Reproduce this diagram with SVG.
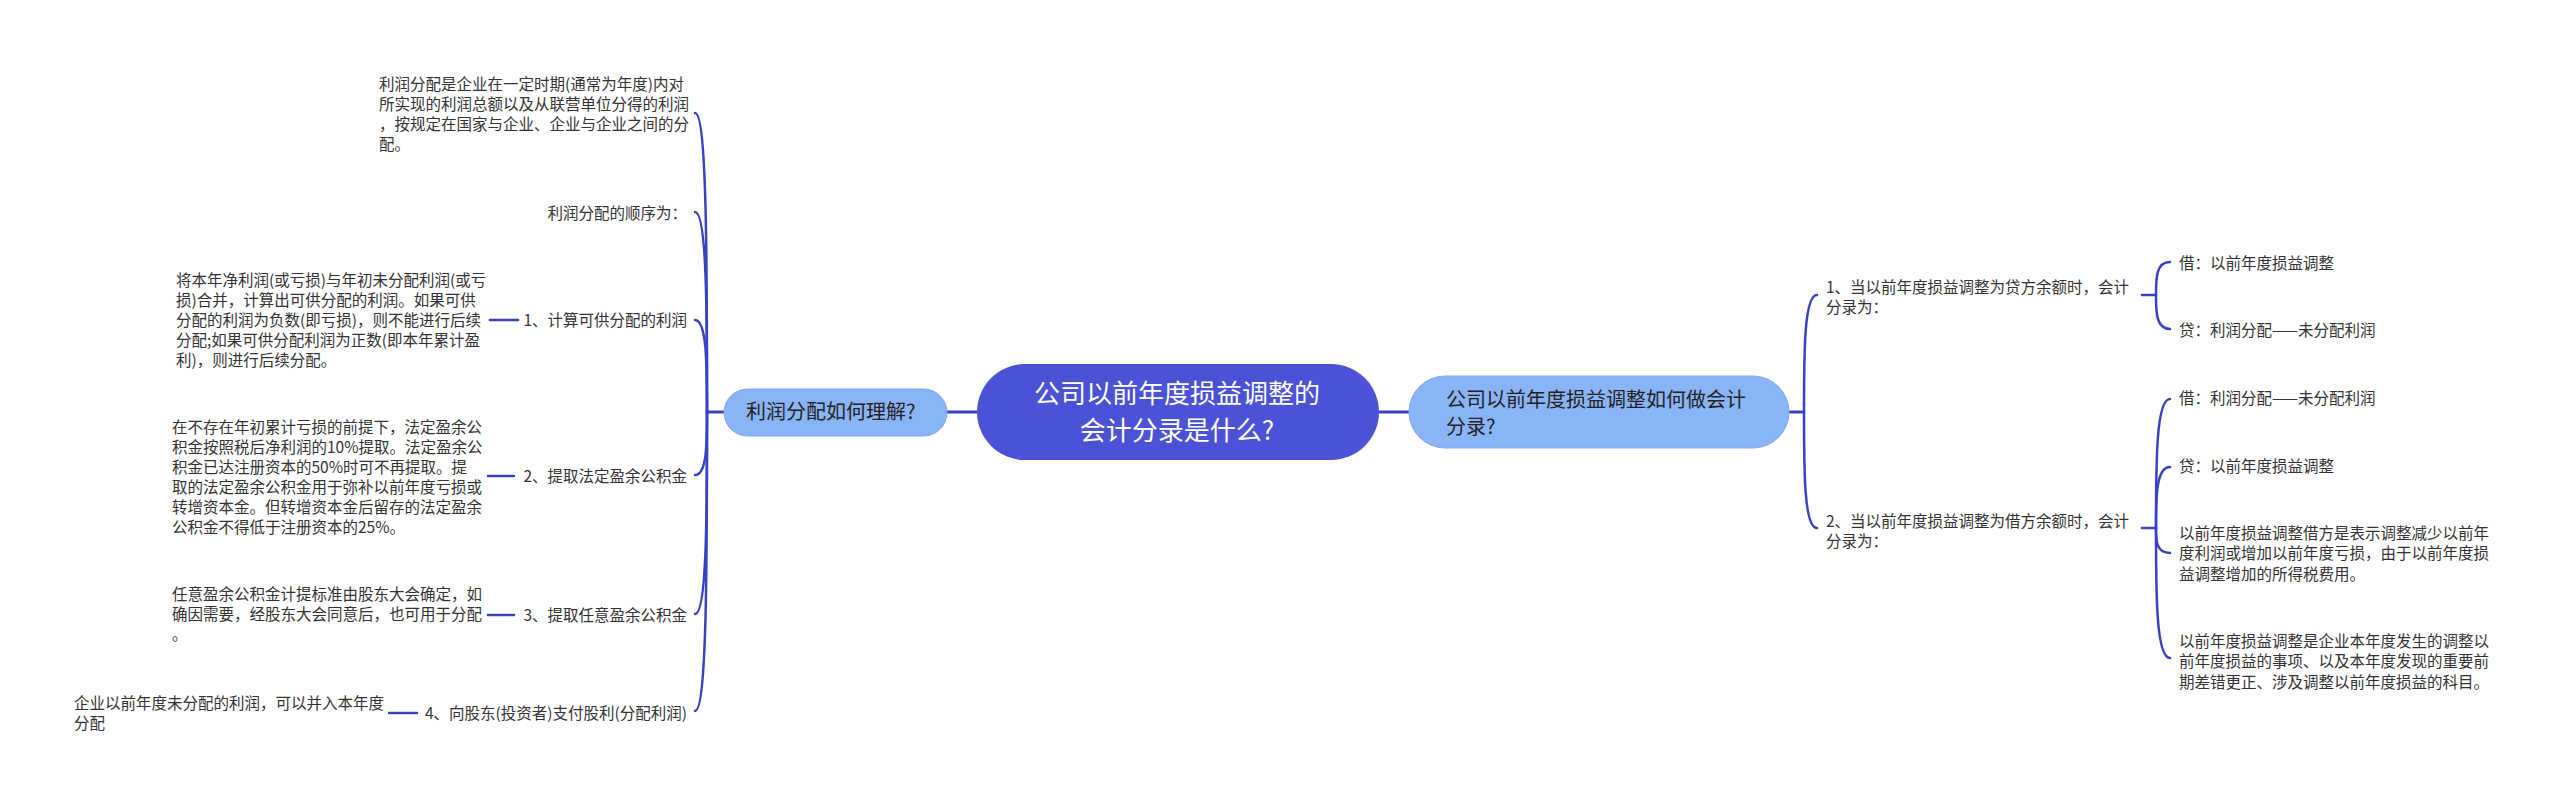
<svg xmlns="http://www.w3.org/2000/svg" width="2560" height="805" viewBox="0 0 2560 805">
<style>
.t{font-family:"Noto Sans CJK SC","Noto Sans",sans-serif;font-size:15.5px;fill:#333333}
.n{font-family:"Noto Sans CJK SC","Noto Sans",sans-serif;font-size:20px;fill:#222222}
.c{font-family:"Noto Sans CJK SC","Noto Sans",sans-serif;font-size:26px;fill:#ffffff}
.l{fill:none;stroke:#3a41c2;stroke-width:2.5;stroke-linecap:round}
.m{fill:none;stroke:#3a41c2;stroke-width:3}
</style>
<rect width="2560" height="805" fill="#ffffff"/>
<g id="connectors">
<path class="m" d="M947 412H977M1379 412H1409"/>
<path class="m" d="M707 412H724M1789 412H1804"/>
<path class="l" d="M707 412C707 262.5 707 113 695 113"/>
<path class="l" d="M707 412C707 312 707 212 695 212"/>
<path class="l" d="M707 412C707 366 707 320 695 320"/>
<path class="l" d="M707 412C707 443 707 475 695 475"/>
<path class="l" d="M707 412C707 513 707 614 695 614"/>
<path class="l" d="M707 412C707 561 707 711 695 711"/>
<path class="l" d="M490 320H518M488 476H514M488 615H514M389 713H417"/>
<path class="l" d="M1804 412C1804 353.5 1804 295 1817 295"/>
<path class="l" d="M1804 412C1804 470 1804 528 1817 528"/>
<path class="l" d="M2142 295H2156M2142 528H2156"/>
<path class="l" d="M2156 295C2156 278.5 2156 262 2170 262"/>
<path class="l" d="M2156 295C2156 312 2156 329 2170 329"/>
<path class="l" d="M2156 528C2156 463.5 2156 399 2170 399"/>
<path class="l" d="M2156 528C2156 497.5 2156 467 2170 467"/>
<path class="l" d="M2156 528C2156 540.5 2156 553 2170 553"/>
<path class="l" d="M2156 528C2156 593 2156 658 2170 658"/>
</g>
<g id="root">
<rect x="977" y="364" width="402" height="96" rx="48" fill="#4b52d6"/>
<text class="c" x="1177" y="403" text-anchor="middle">公司以前年度损益调整的</text>
<text class="c" x="1177" y="440" text-anchor="middle">会计分录是什么?</text>
</g>
<g id="left-main">
<rect x="724" y="389" width="223" height="47" rx="23.5" fill="#8ab4f8" stroke="#7ea9f2" stroke-width="1"/>
<text class="n" x="746" y="419.4">利润分配如何理解?</text>
</g>
<g id="right-main">
<rect x="1409" y="376" width="380" height="72" rx="36" fill="#8ab4f8" stroke="#7ea9f2" stroke-width="1"/>
<text class="n" x="1446" y="407.4">公司以前年度损益调整如何做会计</text>
<text class="n" x="1446" y="434.4">分录?</text>
</g>
<g id="l1">
<text class="t" x="379" y="89.7">利润分配是企业在一定时期(通常为年度)内对</text>
<text class="t" x="379" y="109.7">所实现的利润总额以及从联营单位分得的利润</text>
<text class="t" x="379" y="129.7">，按规定在国家与企业、企业与企业之间的分</text>
<text class="t" x="379" y="149.7">配。</text>
</g>
<g id="l2"><text class="t" x="687" y="218.7" text-anchor="end">利润分配的顺序为：</text></g>
<g id="l3"><text class="t" x="687" y="325.7" text-anchor="end">1、计算可供分配的利润</text></g>
<g id="l3a">
<text class="t" x="176" y="285.7">将本年净利润(或亏损)与年初未分配利润(或亏</text>
<text class="t" x="176" y="305.7">损)合并，计算出可供分配的利润。如果可供</text>
<text class="t" x="176" y="325.7">分配的利润为负数(即亏损)，则不能进行后续</text>
<text class="t" x="176" y="345.7">分配;如果可供分配利润为正数(即本年累计盈</text>
<text class="t" x="176" y="365.7">利)，则进行后续分配。</text>
</g>
<g id="l4"><text class="t" x="687" y="481.7" text-anchor="end">2、提取法定盈余公积金</text></g>
<g id="l4a">
<text class="t" x="172" y="432.7">在不存在年初累计亏损的前提下，法定盈余公</text>
<text class="t" x="172" y="452.7">积金按照税后净利润的10%提取。法定盈余公</text>
<text class="t" x="172" y="472.7">积金已达注册资本的50%时可不再提取。提</text>
<text class="t" x="172" y="492.7">取的法定盈余公积金用于弥补以前年度亏损或</text>
<text class="t" x="172" y="512.7">转增资本金。但转增资本金后留存的法定盈余</text>
<text class="t" x="172" y="532.7">公积金不得低于注册资本的25%。</text>
</g>
<g id="l5"><text class="t" x="687" y="620.7" text-anchor="end">3、提取任意盈余公积金</text></g>
<g id="l5a">
<text class="t" x="172" y="599.7">任意盈余公积金计提标准由股东大会确定，如</text>
<text class="t" x="172" y="619.7">确因需要，经股东大会同意后，也可用于分配</text>
<text class="t" x="172" y="639.7">。</text>
</g>
<g id="l6"><text class="t" x="687" y="718.7" text-anchor="end">4、向股东(投资者)支付股利(分配利润)</text></g>
<g id="l6a">
<text class="t" x="74" y="708.7">企业以前年度未分配的利润，可以并入本年度</text>
<text class="t" x="74" y="728.7">分配</text>
</g>
<g id="r1">
<text class="t" x="1826" y="292.7">1、当以前年度损益调整为贷方余额时，会计</text>
<text class="t" x="1826" y="312.7">分录为：</text>
</g>
<g id="r1a"><text class="t" x="2179" y="268.7">借：以前年度损益调整</text></g>
<g id="r1b"><text class="t" x="2179" y="335.7">贷：利润分配——未分配利润</text></g>
<g id="r2">
<text class="t" x="1826" y="526.7">2、当以前年度损益调整为借方余额时，会计</text>
<text class="t" x="1826" y="546.7">分录为：</text>
</g>
<g id="r2a"><text class="t" x="2179" y="403.7">借：利润分配——未分配利润</text></g>
<g id="r2b"><text class="t" x="2179" y="471.7">贷：以前年度损益调整</text></g>
<g id="r2c">
<text class="t" x="2179" y="538.7">以前年度损益调整借方是表示调整减少以前年</text>
<text class="t" x="2179" y="559.2">度利润或增加以前年度亏损，由于以前年度损</text>
<text class="t" x="2179" y="579.7">益调整增加的所得税费用。</text>
</g>
<g id="r2d">
<text class="t" x="2179" y="646.7">以前年度损益调整是企业本年度发生的调整以</text>
<text class="t" x="2179" y="667.2">前年度损益的事项、以及本年度发现的重要前</text>
<text class="t" x="2179" y="687.7">期差错更正、涉及调整以前年度损益的科目。</text>
</g>
</svg>
